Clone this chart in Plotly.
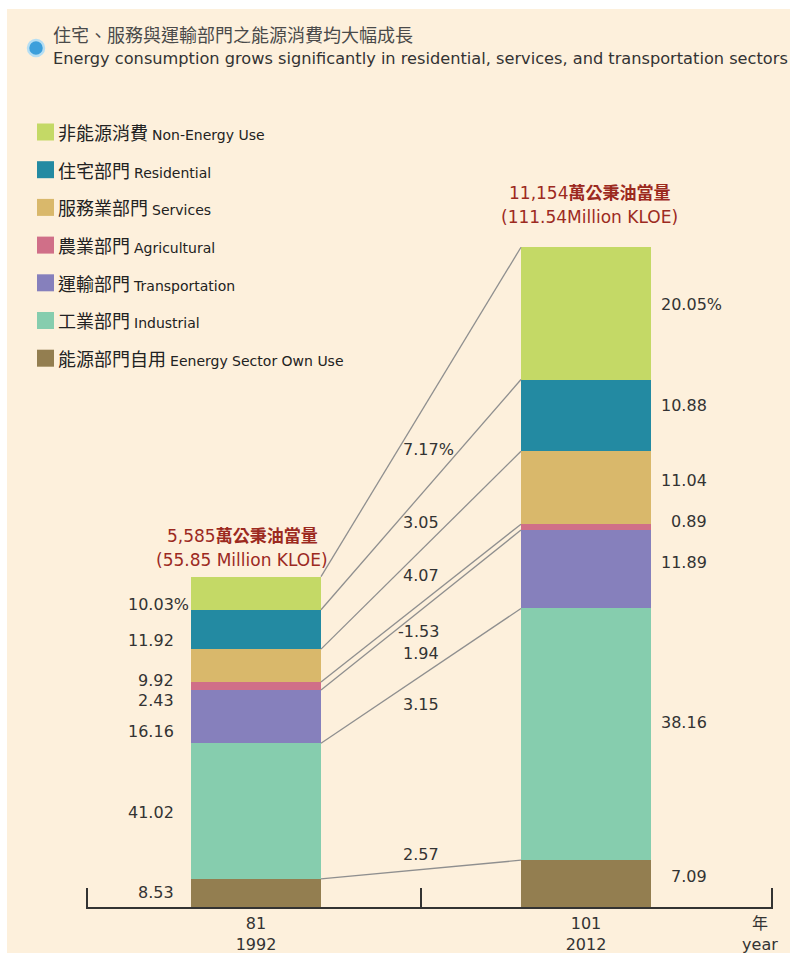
import plotly.graph_objects as go

# ---------------- data ----------------
years_roc = ["81", "101"]
years_ad = ["1992", "2012"]
totals = [55.85, 111.54]  # million KLOE
total_cn_num = ["5,585", "11,154"]
total_cn_unit = "萬公秉油當量"
total_en = ["(55.85 Million KLOE)", "(111.54Million KLOE)"]

# stacked bottom -> top
sectors_cn = ["能源部門自用", "工業部門", "運輸部門", "農業部門", "服務業部門", "住宅部門", "非能源消費"]
sectors_en = ["Eenergy Sector Own Use", "Industrial", "Transportation", "Agricultural",
              "Services", "Residential", "Non-Energy Use"]
share_1992 = [8.53, 41.02, 16.16, 2.43, 9.92, 11.92, 10.03]
share_2012 = [7.09, 38.16, 11.89, 0.89, 11.04, 10.88, 20.05]
growth = [2.57, 3.15, 1.94, -1.53, 4.07, 3.05, 7.17]

title_cn = "住宅、服務與運輸部門之能源消費均大幅成長"
title_en = "Energy consumption grows significantly in residential, services, and transportation sectors"
year_unit = "年<br>year"

# ---------------- style ----------------
colors = ["#937e50", "#86cdae", "#8680bc", "#d06f88", "#d9b86b", "#238aa2", "#c4d966"]
BG = "#fdf0dc"
TXT = "#333333"
RED = "#9c2a1f"
LINE = "#8f8f8f"
NUM_FONT = "DejaVu Sans, Noto Sans CJK TC"
CJK_FONT = "Noto Sans CJK TC, DejaVu Sans"
W, H = 790, 953
BW = 0.394  # bar width in axis units

# offsets (px, + = up) of labels from their anchor
left_lab_dy = [0, -1.5, -15, -14.5, -15, -11, -11]
right_lab_dy = [7, 11.5, 7, 5.5, 7, 9.5, 9]
growth_dy = [15, -29, -44, -28, -25, -28, -38]
PCT_W = 15  # width of the "%" sign, hanging out of the right alignment
tot_dx = [-14, 3]
tot_dy1 = [41, 54]   # first line (Chinese) above bar top
tot_dy2 = [17, 30]   # second line (English) above bar top


def px(x):
    return x / W


def py(y):
    return 1 - y / H


fig = go.Figure()

h92 = [totals[0] * s / 100 for s in share_1992]
h12 = [totals[1] * s / 100 for s in share_2012]

for i in range(len(sectors_cn)):
    fig.add_trace(go.Bar(
        x=[0, 1], y=[h92[i], h12[i]], width=BW,
        marker=dict(color=colors[i], line=dict(width=0)),
        name=sectors_en[i], showlegend=False, hoverinfo="skip",
    ))

cum92, cum12 = [], []
a = b = 0
for i in range(len(sectors_cn)):
    a += h92[i]
    b += h12[i]
    cum92.append(a)
    cum12.append(b)

# connecting lines between segment tops
for i in range(len(sectors_cn)):
    fig.add_trace(go.Scatter(
        x=[BW / 2, 1 - BW / 2], y=[cum92[i], cum12[i]], mode="lines",
        line=dict(color=LINE, width=1.3), showlegend=False, hoverinfo="skip",
    ))

annotations = []
top_i = len(sectors_cn) - 1
for i in range(len(sectors_cn)):
    pct = (i == top_i)
    # left share labels
    annotations.append(dict(
        x=-BW / 2, y=cum92[i] - h92[i] / 2, xref="x", yref="y",
        text=f"{share_1992[i]:.2f}" + ("%" if pct else ""),
        xanchor="right", yanchor="middle", showarrow=False,
        xshift=-15 + (PCT_W if pct else 0), yshift=left_lab_dy[i],
        font=dict(family=NUM_FONT, size=16, color=TXT),
    ))
    # right share labels
    annotations.append(dict(
        x=1 + BW / 2, y=cum12[i] - h12[i] / 2, xref="x", yref="y",
        text=f"{share_2012[i]:.2f}" + ("%" if pct else ""),
        xanchor="right", yanchor="middle", showarrow=False,
        xshift=58 + (PCT_W if pct else 0), yshift=right_lab_dy[i],
        font=dict(family=NUM_FONT, size=16, color=TXT),
    ))
    # growth labels
    annotations.append(dict(
        x=0.5, y=(cum92[i] + cum12[i]) / 2, xref="x", yref="y",
        text=f"{growth[i]:.2f}" + ("%" if pct else ""),
        xanchor="right", yanchor="middle", showarrow=False,
        xshift=20 + (PCT_W if pct else 0), yshift=growth_dy[i],
        font=dict(family=NUM_FONT, size=16, color=TXT),
    ))

# totals above bars
for j in range(2):
    annotations.append(dict(
        x=j, y=totals[j], xref="x", yref="y",
        text=f"{total_cn_num[j]}<b>{total_cn_unit}</b>",
        xanchor="center", yanchor="middle", showarrow=False,
        xshift=tot_dx[j], yshift=tot_dy1[j],
        font=dict(family=NUM_FONT, size=17, color=RED),
    ))
    annotations.append(dict(
        x=j, y=totals[j], xref="x", yref="y",
        text=total_en[j],
        xanchor="center", yanchor="middle", showarrow=False,
        xshift=tot_dx[j], yshift=tot_dy2[j],
        font=dict(family=NUM_FONT, size=17, color=RED),
    ))

# background with thin white border at top and left
shapes = []
shapes.append(dict(type="rect", xref="paper", yref="paper", x0=0, x1=px(7), y0=0, y1=1,
                   fillcolor="white", line=dict(width=0), layer="below"))
shapes.append(dict(type="rect", xref="paper", yref="paper", x0=0, x1=1, y0=py(9), y1=1,
                   fillcolor="white", line=dict(width=0), layer="below"))

# custom legend (top -> bottom = reverse of stack)
leg_y0, leg_step = 132, 37.7
for k, i in enumerate(reversed(range(len(sectors_cn)))):
    yc = leg_y0 + k * leg_step
    shapes.append(dict(type="rect", xref="paper", yref="paper",
                       x0=px(37), x1=px(54), y0=py(yc + 8.5), y1=py(yc - 8.5),
                       fillcolor=colors[i], line=dict(width=0)))
    annotations.append(dict(
        x=px(56), y=py(yc), xref="paper", yref="paper",
        text=f"{sectors_cn[i]} <span style='font-size:14px;font-family:DejaVu Sans'>{sectors_en[i]}</span>",
        xanchor="left", yanchor="middle", showarrow=False,
        font=dict(family=CJK_FONT, size=18, color="#222222"),
    ))

# header
shapes.append(dict(type="circle", xref="paper", yref="paper",
                   x0=px(28), x1=px(44), y0=py(56), y1=py(40),
                   fillcolor="#3c9fdb", line=dict(color="#b5def3", width=2.5)))
annotations.append(dict(
    x=px(51), y=py(34), xref="paper", yref="paper", text=title_cn,
    xanchor="left", yanchor="middle", showarrow=False,
    font=dict(family=CJK_FONT, size=18, color="#4a4a4a"),
))
annotations.append(dict(
    x=px(51), y=py(58), xref="paper", yref="paper", text=title_en,
    xanchor="left", yanchor="middle", showarrow=False,
    font=dict(family="DejaVu Sans", size=16.2, color=TXT),
))

x_lo = -170 / 330
x_hi = 517 / 330

fig.update_layout(
    width=W, height=H, margin=dict(l=0, r=0, t=0, b=0, autoexpand=False),
    paper_bgcolor=BG, plot_bgcolor="rgba(0,0,0,0)",
    barmode="stack", bargap=0,
    showlegend=False,
    shapes=shapes, annotations=annotations,
    xaxis=dict(
        domain=[px(86), px(773)], range=[x_lo, x_hi], automargin=False,
        tickmode="array", tickvals=[0, 1, 1.527],
        ticktext=[f"{years_roc[0]}<br>{years_ad[0]}", f"{years_roc[1]}<br>{years_ad[1]}", year_unit],
        ticks="", showgrid=False, zeroline=False,
        showline=True, linecolor=TXT, linewidth=1.5,
        tickfont=dict(family=NUM_FONT, size=16, color=TXT),
        ticklabelstandoff=1,
        minor=dict(tickvals=[x_lo + 0.002, 0.5, x_hi - 0.002], ticks="inside",
                   ticklen=19, tickwidth=1.5, tickcolor=TXT, showgrid=False),
        fixedrange=True,
    ),
    yaxis=dict(
        domain=[py(907), 1], range=[0, 907 / 5.915], automargin=False,
        visible=False, showgrid=False, zeroline=False, fixedrange=True,
    ),
)

fig.write_html("out.html")
